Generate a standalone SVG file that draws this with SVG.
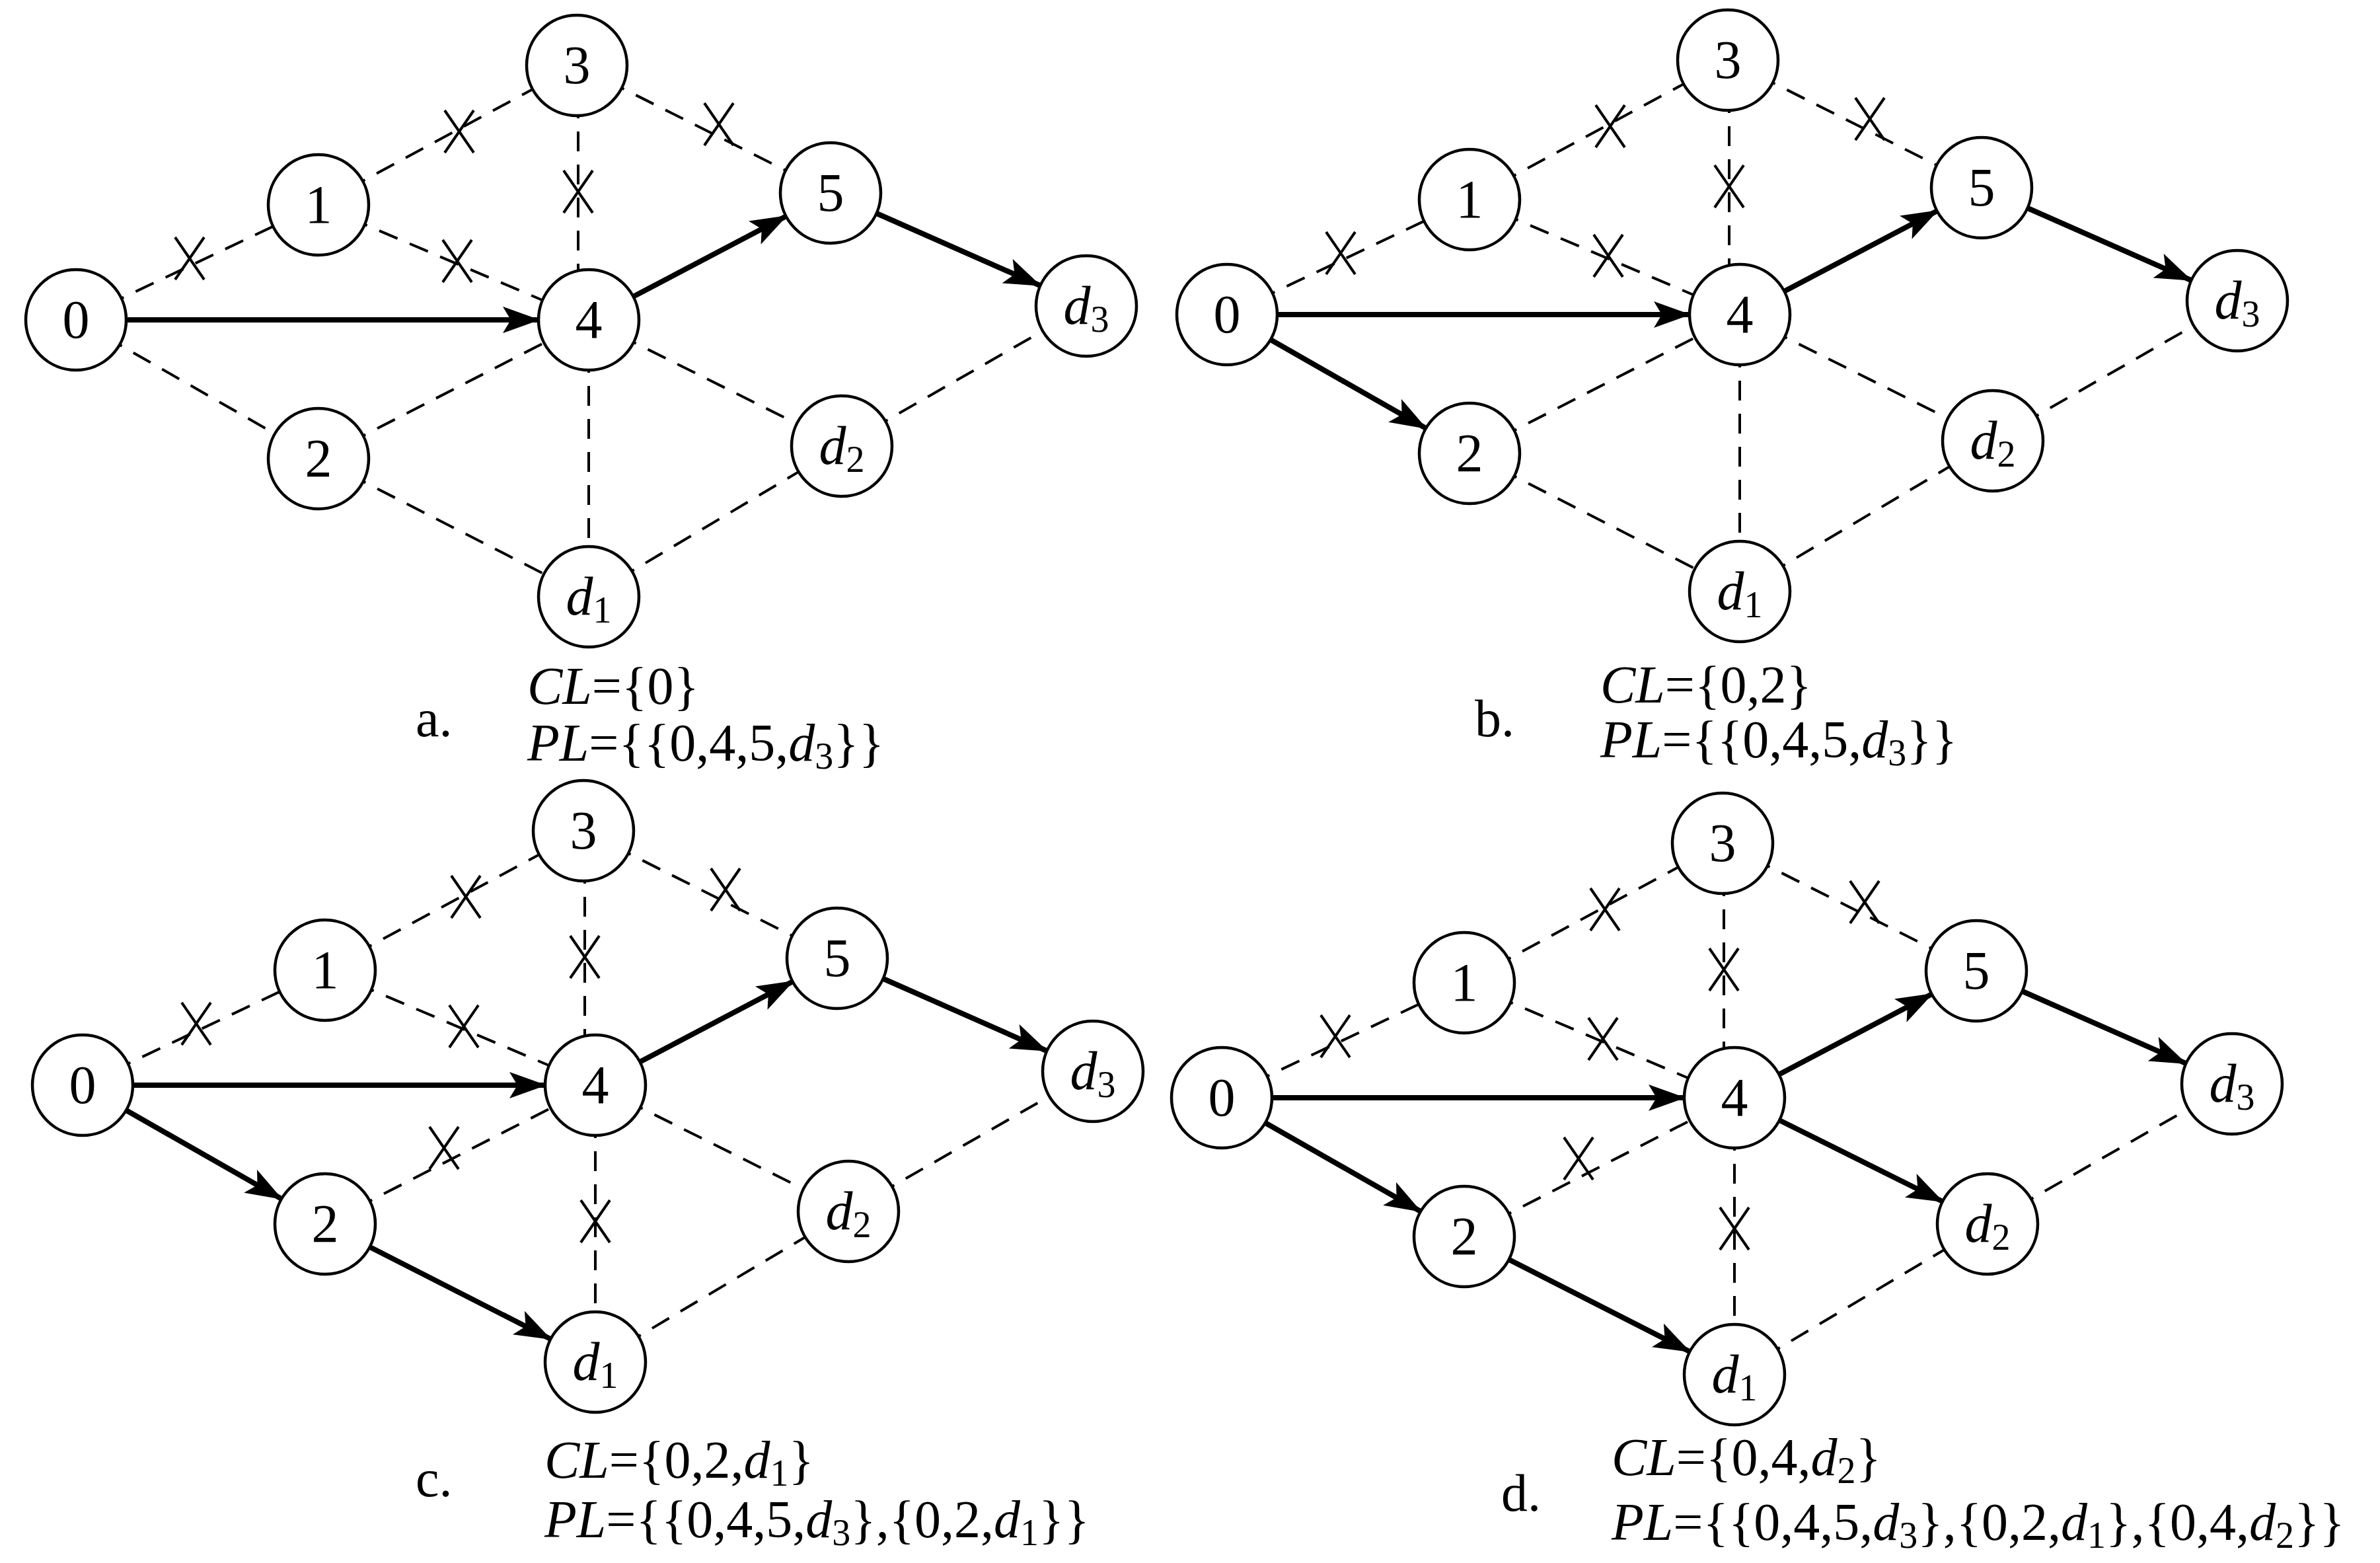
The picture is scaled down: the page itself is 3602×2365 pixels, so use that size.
<svg xmlns="http://www.w3.org/2000/svg" xmlns:xlink="http://www.w3.org/1999/xlink" width="3602" height="2365" viewBox="0 0 3602 2365" font-family="'Liberation Serif','Times New Roman','DejaVu Serif',serif">
<style>
.n{fill:#fff;stroke:#000;stroke-width:4.5}
.t{font-family:'Liberation Serif','Times New Roman','DejaVu Serif',serif;font-size:82px;text-anchor:middle;fill:#000}
.c{font-family:'Liberation Serif','Times New Roman','DejaVu Serif',serif;font-size:80px;fill:#000}
.i{font-style:italic}
.s{font-size:56px}
.d{stroke:#000;stroke-width:4;stroke-dasharray:30,20;fill:none}
.a{stroke:#000;stroke-width:8;fill:none;marker-end:url(#ah)}
.x{stroke:#000;stroke-width:4;fill:none}
</style>
<defs>
<marker id="ah" markerUnits="userSpaceOnUse" viewBox="0 0 56 40" refX="54" refY="20" markerWidth="56" markerHeight="40" orient="auto"><path d="M0,0 L56,20 L0,40 L12,20 Z" fill="#000"/></marker>
<path id="x" d="M-22,-32 L22,32 M22,-32 L-22,32"/>
</defs>
<rect width="3602" height="2365" fill="#fff"/>

<!-- Panel a -->
<g id="panel-a">
<g id="a-edges">
<line class="d" x1="115" y1="484" x2="482" y2="310"/>
<line class="d" x1="115" y1="484" x2="482" y2="694"/>
<line class="d" x1="482" y1="310" x2="873" y2="99"/>
<line class="d" x1="482" y1="310" x2="891" y2="484"/>
<line class="d" x1="482" y1="694" x2="891" y2="484"/>
<line class="d" x1="482" y1="694" x2="891" y2="903"/>
<line class="d" x1="875" y1="99" x2="875" y2="484"/>
<line class="d" x1="873" y1="99" x2="1257" y2="292"/>
<line class="d" x1="891" y1="484" x2="891" y2="903"/>
<line class="d" x1="891" y1="484" x2="1274" y2="675"/>
<line class="d" x1="891" y1="903" x2="1274" y2="675"/>
<line class="d" x1="1274" y1="675" x2="1644" y2="463"/>
<line class="a" x1="191" y1="484" x2="815" y2="484"/>
<line class="a" x1="958" y1="449" x2="1190" y2="327"/>
<line class="a" x1="1327" y1="323" x2="1574" y2="432"/>
<g class="x"><use xlink:href="#x" x="287" y="391"/><use xlink:href="#x" x="695" y="199"/><use xlink:href="#x" x="1088" y="188"/><use xlink:href="#x" x="875" y="290"/><use xlink:href="#x" x="692" y="395"/></g>
</g>
<g id="a-n0"><circle class="n" cx="115" cy="484" r="76"/><text class="t" x="115" y="511">0</text></g>
<g id="a-n1"><circle class="n" cx="482" cy="310" r="76"/><text class="t" x="482" y="337">1</text></g>
<g id="a-n2"><circle class="n" cx="482" cy="694" r="76"/><text class="t" x="482" y="721">2</text></g>
<g id="a-n3"><circle class="n" cx="873" cy="99" r="76"/><text class="t" x="873" y="126">3</text></g>
<g id="a-n4"><circle class="n" cx="891" cy="484" r="76"/><text class="t" x="891" y="511">4</text></g>
<g id="a-n5"><circle class="n" cx="1257" cy="292" r="76"/><text class="t" x="1257" y="319">5</text></g>
<g id="a-d3"><circle class="n" cx="1644" cy="463" r="76"/><text class="t" x="1644" y="490"><tspan class="i">d</tspan><tspan class="s" dy="12">3</tspan></text></g>
<g id="a-d2"><circle class="n" cx="1274" cy="675" r="76"/><text class="t" x="1274" y="702"><tspan class="i">d</tspan><tspan class="s" dy="12">2</tspan></text></g>
<g id="a-d1"><circle class="n" cx="891" cy="903" r="76"/><text class="t" x="891" y="930"><tspan class="i">d</tspan><tspan class="s" dy="12">1</tspan></text></g>
<text class="c" x="629" y="1114">a.</text>
<text class="c" x="798" y="1065"><tspan class="i">CL</tspan>={0}</text>
<text class="c" x="798" y="1151"><tspan class="i">PL</tspan>={{0,4,5,<tspan class="i">d</tspan><tspan class="s" dy="12">3</tspan><tspan dy="-12">}}</tspan></text>
</g>

<!-- Panel b -->
<g id="panel-b" transform="translate(1742,-8)">
<g id="b-edges">
<line class="d" x1="115" y1="484" x2="482" y2="310"/>
<line class="d" x1="482" y1="310" x2="873" y2="99"/>
<line class="d" x1="482" y1="310" x2="891" y2="484"/>
<line class="d" x1="482" y1="694" x2="891" y2="484"/>
<line class="d" x1="482" y1="694" x2="891" y2="903"/>
<line class="d" x1="875" y1="99" x2="875" y2="484"/>
<line class="d" x1="873" y1="99" x2="1257" y2="292"/>
<line class="d" x1="891" y1="484" x2="891" y2="903"/>
<line class="d" x1="891" y1="484" x2="1274" y2="675"/>
<line class="d" x1="891" y1="903" x2="1274" y2="675"/>
<line class="d" x1="1274" y1="675" x2="1644" y2="463"/>
<line class="a" x1="191" y1="484" x2="815" y2="484"/>
<line class="a" x1="958" y1="449" x2="1190" y2="327"/>
<line class="a" x1="1327" y1="323" x2="1574" y2="432"/>
<line class="a" x1="181" y1="522" x2="416" y2="656"/>
<g class="x"><use xlink:href="#x" x="287" y="391"/><use xlink:href="#x" x="695" y="199"/><use xlink:href="#x" x="1088" y="188"/><use xlink:href="#x" x="875" y="290"/><use xlink:href="#x" x="692" y="395"/></g>
</g>
<g id="b-n0"><circle class="n" cx="115" cy="484" r="76"/><text class="t" x="115" y="511">0</text></g>
<g id="b-n1"><circle class="n" cx="482" cy="310" r="76"/><text class="t" x="482" y="337">1</text></g>
<g id="b-n2"><circle class="n" cx="482" cy="694" r="76"/><text class="t" x="482" y="721">2</text></g>
<g id="b-n3"><circle class="n" cx="873" cy="99" r="76"/><text class="t" x="873" y="126">3</text></g>
<g id="b-n4"><circle class="n" cx="891" cy="484" r="76"/><text class="t" x="891" y="511">4</text></g>
<g id="b-n5"><circle class="n" cx="1257" cy="292" r="76"/><text class="t" x="1257" y="319">5</text></g>
<g id="b-d3"><circle class="n" cx="1644" cy="463" r="76"/><text class="t" x="1644" y="490"><tspan class="i">d</tspan><tspan class="s" dy="12">3</tspan></text></g>
<g id="b-d2"><circle class="n" cx="1274" cy="675" r="76"/><text class="t" x="1274" y="702"><tspan class="i">d</tspan><tspan class="s" dy="12">2</tspan></text></g>
<g id="b-d1"><circle class="n" cx="891" cy="903" r="76"/><text class="t" x="891" y="930"><tspan class="i">d</tspan><tspan class="s" dy="12">1</tspan></text></g>
</g>
<text class="c" x="2232" y="1114">b.</text>
<text class="c" x="2422" y="1063"><tspan class="i">CL</tspan>={0,2}</text>
<text class="c" x="2422" y="1146"><tspan class="i">PL</tspan>={{0,4,5,<tspan class="i">d</tspan><tspan class="s" dy="12">3</tspan><tspan dy="-12">}}</tspan></text>

<!-- Panel c -->
<g id="panel-c" transform="translate(10,1158)">
<g id="c-edges">
<line class="d" x1="115" y1="484" x2="482" y2="310"/>
<line class="d" x1="482" y1="310" x2="873" y2="99"/>
<line class="d" x1="482" y1="310" x2="891" y2="484"/>
<line class="d" x1="482" y1="694" x2="891" y2="484"/>
<line class="d" x1="875" y1="99" x2="875" y2="484"/>
<line class="d" x1="873" y1="99" x2="1257" y2="292"/>
<line class="d" x1="891" y1="484" x2="891" y2="903"/>
<line class="d" x1="891" y1="484" x2="1274" y2="675"/>
<line class="d" x1="891" y1="903" x2="1274" y2="675"/>
<line class="d" x1="1274" y1="675" x2="1644" y2="463"/>
<line class="a" x1="191" y1="484" x2="815" y2="484"/>
<line class="a" x1="958" y1="449" x2="1190" y2="327"/>
<line class="a" x1="1327" y1="323" x2="1574" y2="432"/>
<line class="a" x1="181" y1="522" x2="416" y2="656"/>
<line class="a" x1="550" y1="729" x2="823" y2="868"/>
<g class="x"><use xlink:href="#x" x="287" y="391"/><use xlink:href="#x" x="695" y="199"/><use xlink:href="#x" x="1088" y="188"/><use xlink:href="#x" x="875" y="290"/><use xlink:href="#x" x="692" y="395"/><use xlink:href="#x" x="662" y="579"/><use xlink:href="#x" x="891" y="690"/></g>
</g>
<g id="c-n0"><circle class="n" cx="115" cy="484" r="76"/><text class="t" x="115" y="511">0</text></g>
<g id="c-n1"><circle class="n" cx="482" cy="310" r="76"/><text class="t" x="482" y="337">1</text></g>
<g id="c-n2"><circle class="n" cx="482" cy="694" r="76"/><text class="t" x="482" y="721">2</text></g>
<g id="c-n3"><circle class="n" cx="873" cy="99" r="76"/><text class="t" x="873" y="126">3</text></g>
<g id="c-n4"><circle class="n" cx="891" cy="484" r="76"/><text class="t" x="891" y="511">4</text></g>
<g id="c-n5"><circle class="n" cx="1257" cy="292" r="76"/><text class="t" x="1257" y="319">5</text></g>
<g id="c-d3"><circle class="n" cx="1644" cy="463" r="76"/><text class="t" x="1644" y="490"><tspan class="i">d</tspan><tspan class="s" dy="12">3</tspan></text></g>
<g id="c-d2"><circle class="n" cx="1274" cy="675" r="76"/><text class="t" x="1274" y="702"><tspan class="i">d</tspan><tspan class="s" dy="12">2</tspan></text></g>
<g id="c-d1"><circle class="n" cx="891" cy="903" r="76"/><text class="t" x="891" y="930"><tspan class="i">d</tspan><tspan class="s" dy="12">1</tspan></text></g>
</g>
<text class="c" x="629" y="2264">c.</text>
<text class="c" x="824" y="2236"><tspan class="i">CL</tspan>={0,2,<tspan class="i">d</tspan><tspan class="s" dy="12">1</tspan><tspan dy="-12">}</tspan></text>
<text class="c" x="824" y="2326"><tspan class="i">PL</tspan>={{0,4,5,<tspan class="i">d</tspan><tspan class="s" dy="12">3</tspan><tspan dy="-12">},{0,2,</tspan><tspan class="i">d</tspan><tspan class="s" dy="12">1</tspan><tspan dy="-12">}}</tspan></text>

<!-- Panel d -->
<g id="panel-d" transform="translate(1734,1177)">
<g id="d-edges">
<line class="d" x1="115" y1="484" x2="482" y2="310"/>
<line class="d" x1="482" y1="310" x2="873" y2="99"/>
<line class="d" x1="482" y1="310" x2="891" y2="484"/>
<line class="d" x1="482" y1="694" x2="891" y2="484"/>
<line class="d" x1="875" y1="99" x2="875" y2="484"/>
<line class="d" x1="873" y1="99" x2="1257" y2="292"/>
<line class="d" x1="891" y1="484" x2="891" y2="903"/>
<line class="d" x1="891" y1="903" x2="1274" y2="675"/>
<line class="d" x1="1274" y1="675" x2="1644" y2="463"/>
<line class="a" x1="191" y1="484" x2="815" y2="484"/>
<line class="a" x1="958" y1="449" x2="1190" y2="327"/>
<line class="a" x1="1327" y1="323" x2="1574" y2="432"/>
<line class="a" x1="181" y1="522" x2="416" y2="656"/>
<line class="a" x1="550" y1="729" x2="823" y2="868"/>
<line class="a" x1="959" y1="518" x2="1206" y2="641"/>
<g class="x"><use xlink:href="#x" x="287" y="391"/><use xlink:href="#x" x="695" y="199"/><use xlink:href="#x" x="1088" y="188"/><use xlink:href="#x" x="875" y="290"/><use xlink:href="#x" x="692" y="395"/><use xlink:href="#x" x="655" y="576"/><use xlink:href="#x" x="891" y="682"/></g>
</g>
<g id="d-n0"><circle class="n" cx="115" cy="484" r="76"/><text class="t" x="115" y="511">0</text></g>
<g id="d-n1"><circle class="n" cx="482" cy="310" r="76"/><text class="t" x="482" y="337">1</text></g>
<g id="d-n2"><circle class="n" cx="482" cy="694" r="76"/><text class="t" x="482" y="721">2</text></g>
<g id="d-n3"><circle class="n" cx="873" cy="99" r="76"/><text class="t" x="873" y="126">3</text></g>
<g id="d-n4"><circle class="n" cx="891" cy="484" r="76"/><text class="t" x="891" y="511">4</text></g>
<g id="d-n5"><circle class="n" cx="1257" cy="292" r="76"/><text class="t" x="1257" y="319">5</text></g>
<g id="d-d3"><circle class="n" cx="1644" cy="463" r="76"/><text class="t" x="1644" y="490"><tspan class="i">d</tspan><tspan class="s" dy="12">3</tspan></text></g>
<g id="d-d2"><circle class="n" cx="1274" cy="675" r="76"/><text class="t" x="1274" y="702"><tspan class="i">d</tspan><tspan class="s" dy="12">2</tspan></text></g>
<g id="d-d1"><circle class="n" cx="891" cy="903" r="76"/><text class="t" x="891" y="930"><tspan class="i">d</tspan><tspan class="s" dy="12">1</tspan></text></g>
</g>
<text class="c" x="2272" y="2286">d.</text>
<text class="c" x="2439" y="2232"><tspan class="i">CL</tspan>={0,4,<tspan class="i">d</tspan><tspan class="s" dy="12">2</tspan><tspan dy="-12">}</tspan></text>
<text class="c" x="2439" y="2330"><tspan class="i">PL</tspan>={{0,4,5,<tspan class="i">d</tspan><tspan class="s" dy="12">3</tspan><tspan dy="-12">},{0,2,</tspan><tspan class="i">d</tspan><tspan class="s" dy="12">1</tspan><tspan dy="-12">},{0,4,</tspan><tspan class="i">d</tspan><tspan class="s" dy="12">2</tspan><tspan dy="-12">}}</tspan></text>
</svg>
